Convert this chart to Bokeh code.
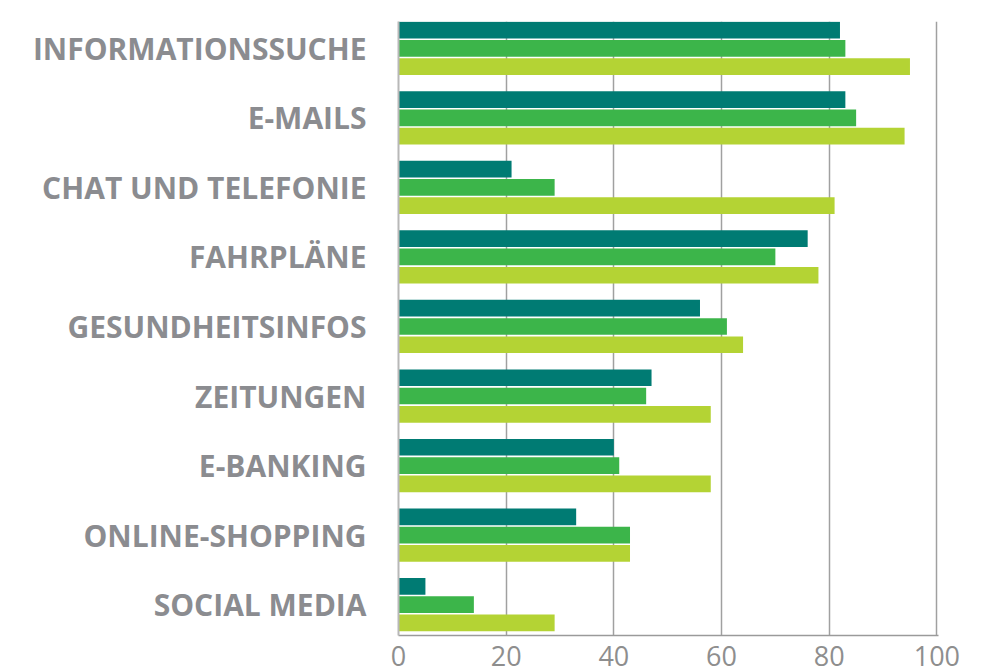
from bokeh.plotting import figure
from bokeh.models import FixedTicker, Range1d, ColumnDataSource
from bokeh.embed import file_html
from bokeh.resources import INLINE

categories = ["INFORMATIONSSUCHE", "E-MAILS", "CHAT UND TELEFONIE", "FAHRPLÄNE",
              "GESUNDHEITSINFOS", "ZEITUNGEN", "E-BANKING", "ONLINE-SHOPPING", "SOCIAL MEDIA"]
series_1 = [82, 83, 21, 76, 56, 47, 40, 33, 5]
series_2 = [83, 85, 29, 70, 61, 46, 41, 43, 14]
series_3 = [95, 94, 81, 78, 64, 58, 58, 43, 29]
x_ticks = [0, 20, 40, 60, 80, 100]

colors = ["#007b73", "#3cb54a", "#b4d334"]
offsets = [0.263, 0.0, -0.263]
bar_h = 0.24

n = len(categories)
pos = [n - 1 - i for i in range(n)]
y_start, y_end = -0.444, n - 1 + 0.386

p = figure(frame_width=540, frame_height=614,
           x_range=Range1d(0, 100.3), y_range=Range1d(y_start, y_end),
           output_backend="svg", toolbar_location=None,
           min_border_left=398, min_border_right=30, min_border_top=21, min_border_bottom=37,
           background_fill_color="white", border_fill_color="white")
p.outline_line_color = None

for vals, col, off in zip([series_1, series_2, series_3], colors, offsets):
    src = ColumnDataSource(dict(y=[q + off for q in pos], right=vals))
    p.hbar(y="y", right="right", left=0, height=bar_h, source=src,
           fill_color=col, line_color=None)

# y axis with category labels
p.yaxis.ticker = FixedTicker(ticks=pos)
p.yaxis.major_label_overrides = {q: c for q, c in zip(pos, categories)}
p.yaxis.major_tick_line_color = None
p.yaxis.minor_tick_line_color = None
p.yaxis.axis_line_color = "#b8b8b8"
p.yaxis.axis_line_width = 2
p.yaxis.major_label_standoff = 26
p.yaxis.major_label_text_font = "Open Sans"
p.yaxis.major_label_text_font_style = "bold"
p.yaxis.major_label_text_font_size = "30px"
p.yaxis.major_label_text_color = "#8b8c90"
p.ygrid.visible = False

# x grid and axis
p.xgrid.ticker = FixedTicker(ticks=x_ticks[1:])
p.xgrid.grid_line_color = "#a0a0a0"
p.xgrid.grid_line_width = 1.5
p.xaxis.ticker = FixedTicker(ticks=x_ticks)
p.xaxis.major_tick_line_color = None
p.xaxis.minor_tick_line_color = None
p.xaxis.major_tick_out = 0
p.xaxis.major_label_standoff = 10
p.xaxis.major_label_text_font = "Open Sans"
p.xaxis.major_label_text_font_size = "27px"
p.xaxis.major_label_text_color = "#8e8e8e"
p.xaxis.axis_line_color = "#9a9a9a"
p.xaxis.axis_line_width = 1.5

open("out.html", "w").write(file_html(p, INLINE))
